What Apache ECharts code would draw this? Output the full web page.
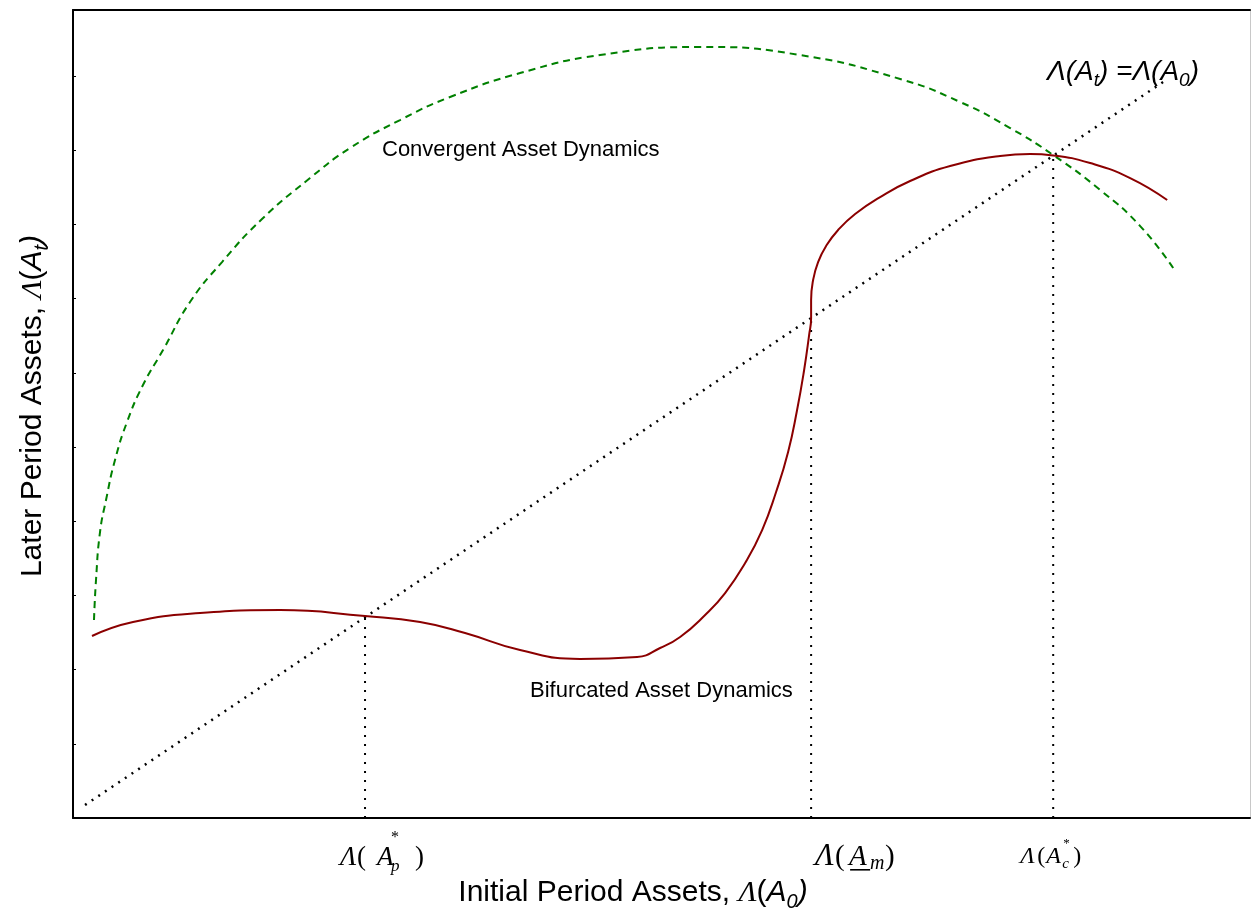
<!DOCTYPE html>
<html>
<head>
<meta charset="utf-8">
<script src="https://cdn.jsdelivr.net/npm/echarts@6/dist/echarts.min.js"></script>
<style>html,body{margin:0;padding:0;background:#fff;}#c{width:1252px;height:917px;}</style>
</head>
<body>
<div id="c"></div>
<script>
// ---- data (axis units: one y tick = 1) ----
const greenX = [0.283,0.310,0.364,0.445,0.566,0.728,0.943,1.213,1.577,2.008,2.547,3.194,3.733,4.407,5.081,6.024,7.102,8.450,9.798,11.146,11.954,12.628,13.208,13.841,14.380,14.825];
const greenY = [2.668,3.208,3.854,4.286,4.825,5.337,5.836,6.307,6.954,7.493,8.073,8.625,9.030,9.407,9.717,10.040,10.283,10.391,10.283,9.960,9.650,9.299,8.935,8.464,7.978,7.412];
const redX = [0.256,0.809,1.712,2.790,3.935,4.677,5.283,6.024,6.833,7.601,7.911,8.181,8.518,8.787,9.057,9.286,9.474,9.636,9.757,9.852,9.919,9.946,9.946,9.973,10.040,10.148,10.310,10.539,10.876,11.280,11.819,12.493,12.898,13.208,13.706,14.245,14.744];
const redY = [2.453,2.642,2.763,2.803,2.722,2.642,2.493,2.264,2.143,2.170,2.291,2.439,2.736,3.032,3.437,3.881,4.394,4.933,5.499,6.038,6.509,6.739,6.981,7.251,7.493,7.709,7.925,8.140,8.369,8.585,8.787,8.922,8.949,8.930,8.827,8.625,8.329];
const diagX = [0.162, 14.69];
const diagY = [0.175, 9.92];
const eqX = [3.935, 9.946, 13.208];
const eqY = [2.71, 6.74, 8.93];
const yTickMax = 10.89;
const xMax = 15.86;

const zip = (a, b) => a.map((v, i) => [v, b[i]]);
const chart = echarts.init(document.getElementById('c'));

const series = [
  {type:'line', data: zip(greenX, greenY), showSymbol:false, smooth:0.5,
   lineStyle:{color:'#008000', width:2, type:[7,5]}, z:3},
  {type:'line', data: zip(redX, redY), showSymbol:false, smooth:0.5,
   lineStyle:{color:'#8b0000', width:2}, z:4},
  {type:'line', data: zip(diagX, diagY), showSymbol:false,
   lineStyle:{color:'#000', width:2.5, type:[2,6]}, z:2}
];
eqX.forEach((x, i) => {
  series.push({type:'line', data:[[x,0],[x,eqY[i]]], showSymbol:false,
    lineStyle:{color:'#000', width:2, type:[2,7]}, z:2});
});

chart.setOption({
  animation:false,
  backgroundColor:'#fff',
  grid:{left:73, right:2, top:10, bottom:99},
  xAxis:[
    {type:'value', min:0, max:xMax, position:'bottom',
     axisLine:{show:true, onZero:false, lineStyle:{color:'#000', width:2}},
     axisTick:{show:false}, axisLabel:{show:false}, splitLine:{show:false}},
    {type:'value', min:0, max:xMax, position:'top',
     axisLine:{show:true, onZero:false, lineStyle:{color:'#000', width:2}},
     axisTick:{show:false}, axisLabel:{show:false}, splitLine:{show:false}}
  ],
  yAxis:[
    {type:'value', min:0, max:yTickMax, interval:1, position:'left',
     axisLine:{show:true, onZero:false, lineStyle:{color:'#000', width:2}},
     axisTick:{show:true, inside:true, length:3, lineStyle:{color:'#000', width:1}},
     axisLabel:{show:false}, splitLine:{show:false}},
    {type:'value', min:0, max:yTickMax, position:'right',
     axisLine:{show:true, onZero:false, lineStyle:{color:'#c8c8c8', width:1}},
     axisTick:{show:false}, axisLabel:{show:false}, splitLine:{show:false}}
  ],
  series: series
});

// ---- text ----
const SANS = 'Liberation Sans, Arial, sans-serif';
const SERIF = 'Liberation Serif, Times New Roman, serif';
function txt(x, y, t, size, opts) {
  opts = opts || {};
  return {type:'text', x:x, y:y, silent:true, z:10,
    style:{text:t, fill:'#000', fontSize:size, fontFamily:opts.family || SANS,
      fontStyle:opts.italic ? 'italic' : 'normal',
      align:opts.align || 'left', verticalAlign:'middle'}};
}
const px = eqX.map(x => chart.convertToPixel({xAxisIndex:0, yAxisIndex:0}, [x, 0]));
const serifIt = {family:SERIF, italic:true};
const serif = {family:SERIF};
const g = [];
// Λ(A*p)
let ax = px[0][0], by = px[0][1] + 40;
g.push(txt(ax-25, by, 'Λ', 27, serifIt));
g.push(txt(ax-8, by, '(', 27, serif));
g.push(txt(ax+12, by, 'A', 27, serifIt));
g.push(txt(ax+26, by-20, '*', 16, serif));
g.push(txt(ax+26, by+9, 'p', 17, serifIt));
g.push(txt(ax+50, by, ')', 27, serif));
// Λ(A_m)
ax = px[1][0]; by = px[1][1] + 39;
g.push(txt(ax+4, by, 'Λ', 31, serifIt));
g.push(txt(ax+24, by, '(', 29, serif));
g.push(txt(ax+38, by, 'A', 29, serifIt));
g.push({type:'rect', silent:true, z:10, shape:{x:ax+39, y:by+12, width:20, height:1.6}, style:{fill:'#000'}});
g.push(txt(ax+59, by+7, 'm', 20, serifIt));
g.push(txt(ax+74, by, ')', 29, serif));
// Λ(A*c)
ax = px[2][0]; by = px[2][1] + 39;
g.push(txt(ax-33, by, 'Λ', 24, serifIt));
g.push(txt(ax-16, by, '(', 24, serif));
g.push(txt(ax-7, by, 'A', 24, serifIt));
g.push(txt(ax+10, by-13, '*', 13, serif));
g.push(txt(ax+9, by+7, 'c', 15, serifIt));
g.push(txt(ax+20, by, ')', 24, serif));

const richAxis = {
  n:{fontSize:30, fontFamily:SANS, lineHeight:38, verticalAlign:'middle'},
  l:{fontSize:30, fontFamily:SERIF, fontStyle:'italic', lineHeight:38, verticalAlign:'middle'},
  i:{fontSize:30, fontFamily:SANS, fontStyle:'italic', lineHeight:38, verticalAlign:'middle'},
  s:{fontSize:20, fontFamily:SANS, fontStyle:'italic', lineHeight:38, verticalAlign:'bottom'}
};
g.push({type:'text', x:633, y:893, silent:true, z:10,
  style:{text:'{n|Initial Period Assets, }{l|Λ}{n|(}{i|A}{s|0}{i|)}', rich:richAxis, fill:'#000',
    align:'center', verticalAlign:'middle'}});
g.push({type:'text', x:33, y:406, rotation:Math.PI/2, silent:true, z:10,
  style:{text:'{n|Later Period Assets, }{l|Λ}{n|(}{i|A}{s|t}{i|)}', rich:richAxis, fill:'#000',
    align:'center', verticalAlign:'middle'}});
const richEq = {
  i:{fontSize:28, fontFamily:SANS, fontStyle:'italic', lineHeight:36, verticalAlign:'middle'},
  s:{fontSize:19, fontFamily:SANS, fontStyle:'italic', lineHeight:36, verticalAlign:'bottom'}
};
g.push({type:'text', x:1047, y:72, silent:true, z:10,
  style:{text:'{i|Λ(A}{s|t}{i|) =Λ(A}{s|0}{i|)}', rich:richEq, fill:'#000', align:'left', verticalAlign:'middle'}});
g.push(txt(382, 150, 'Convergent Asset Dynamics', 22));
g.push(txt(530, 691, 'Bifurcated Asset Dynamics', 22));

chart.setOption({graphic: g});
</script>
</body>
</html>
